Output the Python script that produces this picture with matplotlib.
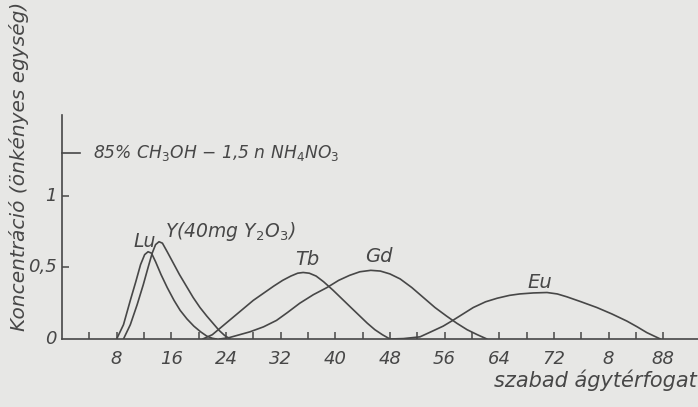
import matplotlib
matplotlib.use("Agg")
import matplotlib.pyplot as plt

# elution curves (free column volume vs. concentration)
lu_x = [8.0, 9.0, 10.0, 10.8, 11.5, 12.1, 12.6, 13.1, 13.7, 14.5, 15.4, 16.4, 17.3, 18.3,
        19.3, 20.3, 21.2, 22.0, 22.6]
lu_y = [0.0, 0.10, 0.27, 0.40, 0.52, 0.59, 0.61, 0.60, 0.54, 0.45, 0.36, 0.27, 0.20, 0.14,
        0.09, 0.05, 0.02, 0.005, 0.0]

y_x = [9.0, 10.0, 11.0, 11.9, 12.6, 13.2, 13.7, 14.2, 14.7, 15.4, 16.3, 17.2, 18.2, 19.2,
       20.2, 21.2, 22.1, 23.0, 23.8, 24.6]
y_y = [0.0, 0.10, 0.24, 0.38, 0.50, 0.60, 0.66, 0.68, 0.67, 0.61, 0.53, 0.45, 0.37, 0.29,
       0.22, 0.16, 0.11, 0.06, 0.025, 0.0]

tb_x = [20.6, 22.0, 23.5, 25.0, 26.5, 28.0, 29.5, 31.0, 32.3, 33.5, 34.5, 35.3, 36.2, 37.2,
        38.3, 39.7, 41.0, 42.3, 43.5, 44.7, 45.8, 46.9, 48.0]
tb_y = [0.0, 0.03, 0.09, 0.15, 0.21, 0.27, 0.32, 0.37, 0.41, 0.44, 0.46, 0.465, 0.46, 0.44,
        0.40, 0.34, 0.28, 0.22, 0.165, 0.11, 0.065, 0.03, 0.0]

gd_x = [23.1, 24.5, 26.0, 27.5, 29.5, 31.4, 33.0, 34.8, 36.8, 38.8, 40.5, 42.1, 43.6, 45.2,
        46.6, 48.0, 49.5, 51.2, 52.9, 54.6, 56.3, 57.8, 59.3, 60.8, 62.2]
gd_y = [0.0, 0.01, 0.03, 0.05, 0.085, 0.13, 0.185, 0.25, 0.31, 0.36, 0.41, 0.445, 0.47, 0.48,
        0.475, 0.455, 0.42, 0.36, 0.29, 0.22, 0.16, 0.11, 0.065, 0.03, 0.0]

eu_x = [48.0, 50.0, 52.4, 54.0, 55.8, 57.2, 58.7, 60.2, 62.0, 63.7, 65.5, 67.0, 69.0, 71.0,
        72.5, 73.9, 76.0, 78.3, 80.5, 82.7, 84.2, 85.6, 86.7, 87.6]
eu_y = [0.0, 0.003, 0.015, 0.05, 0.09, 0.13, 0.175, 0.22, 0.26, 0.285, 0.305, 0.315, 0.322, 0.325,
        0.315, 0.295, 0.26, 0.22, 0.175, 0.125, 0.085, 0.045, 0.02, 0.0]

x_ticks = [4, 8, 12, 16, 20, 24, 28, 32, 36, 40, 44, 48, 52, 56, 60, 64, 68, 72, 76, 80, 84, 88]
x_label_pos = [8, 16, 24, 32, 40, 48, 56, 64, 72, 80, 88]
x_label_txt = ["8", "16", "24", "32", "40", "48", "56", "64", "72", "8", "88"]
y_ticks = [0, 0.5, 1]
y_tick_txt = ["0", "0,5", "1"]

paper = "#e7e7e5"
ink = "#474747"

fig = plt.figure(figsize=(6.98, 4.07), dpi=100, facecolor=paper)
ax = fig.add_axes([62 / 698, 68 / 407, 636 / 698, 224 / 407])
ax.set_facecolor(paper)
ax.set_xlim(0, 93.1)
ax.set_ylim(0, 1.566)

for xs, ys in [(lu_x, lu_y), (y_x, y_y), (tb_x, tb_y), (gd_x, gd_y), (eu_x, eu_y)]:
    ax.plot(xs, ys, color=ink, lw=1.2, solid_joinstyle="round", solid_capstyle="round")

for s in ["top", "right"]:
    ax.spines[s].set_visible(False)
for s in ["left", "bottom"]:
    ax.spines[s].set_color(ink)
    ax.spines[s].set_linewidth(1.2)

ax.set_xticks(x_ticks)
ax.set_xticklabels([])
ax.tick_params(axis="x", direction="in", length=5, width=1.1, color=ink)
for p, t in zip(x_label_pos, x_label_txt):
    ax.text(p, -0.08, t, ha="center", va="top", fontsize=13, style="italic", color=ink)

ax.set_yticks(y_ticks[1:])
ax.set_yticklabels([])
ax.tick_params(axis="y", direction="in", length=5, width=1.1, color=ink)
for v, t in zip(y_ticks, y_tick_txt):
    ax.text(-0.8, v, t, ha="right", va="center", fontsize=13, style="italic", color=ink)

# eluent note with its short marker line
ax.plot([0, 2.6], [1.3, 1.3], color=ink, lw=1.2, clip_on=False)
ax.text(4.6, 1.3, r"85% CH$_3$OH $-$ 1,5 n NH$_4$NO$_3$", ha="left", va="center",
        fontsize=12.3, style="italic", color=ink)

ax.text(10.4, 0.64, "Lu", fontsize=13.5, style="italic", color=ink, va="baseline")
ax.text(15.1, 0.71, r"Y(40mg Y$_2$O$_3$)", fontsize=13.5, style="italic", color=ink,
        va="baseline")
ax.text(34.1, 0.52, "Tb", fontsize=14, style="italic", color=ink, va="baseline")
ax.text(44.4, 0.54, "Gd", fontsize=14, style="italic", color=ink, va="baseline")
ax.text(68.2, 0.36, "Eu", fontsize=14, style="italic", color=ink, va="baseline")

fig.text(0.998, 0.066, "szabad ágytérfogat", ha="right", va="center",
         fontsize=15, style="italic", color=ink)
fig.text(0.027, 0.59, "Koncentráció (önkényes egység)", ha="center", va="center",
         rotation=90, fontsize=14.5, style="italic", color=ink)

fig.savefig("out.png", dpi=100, facecolor=paper)
